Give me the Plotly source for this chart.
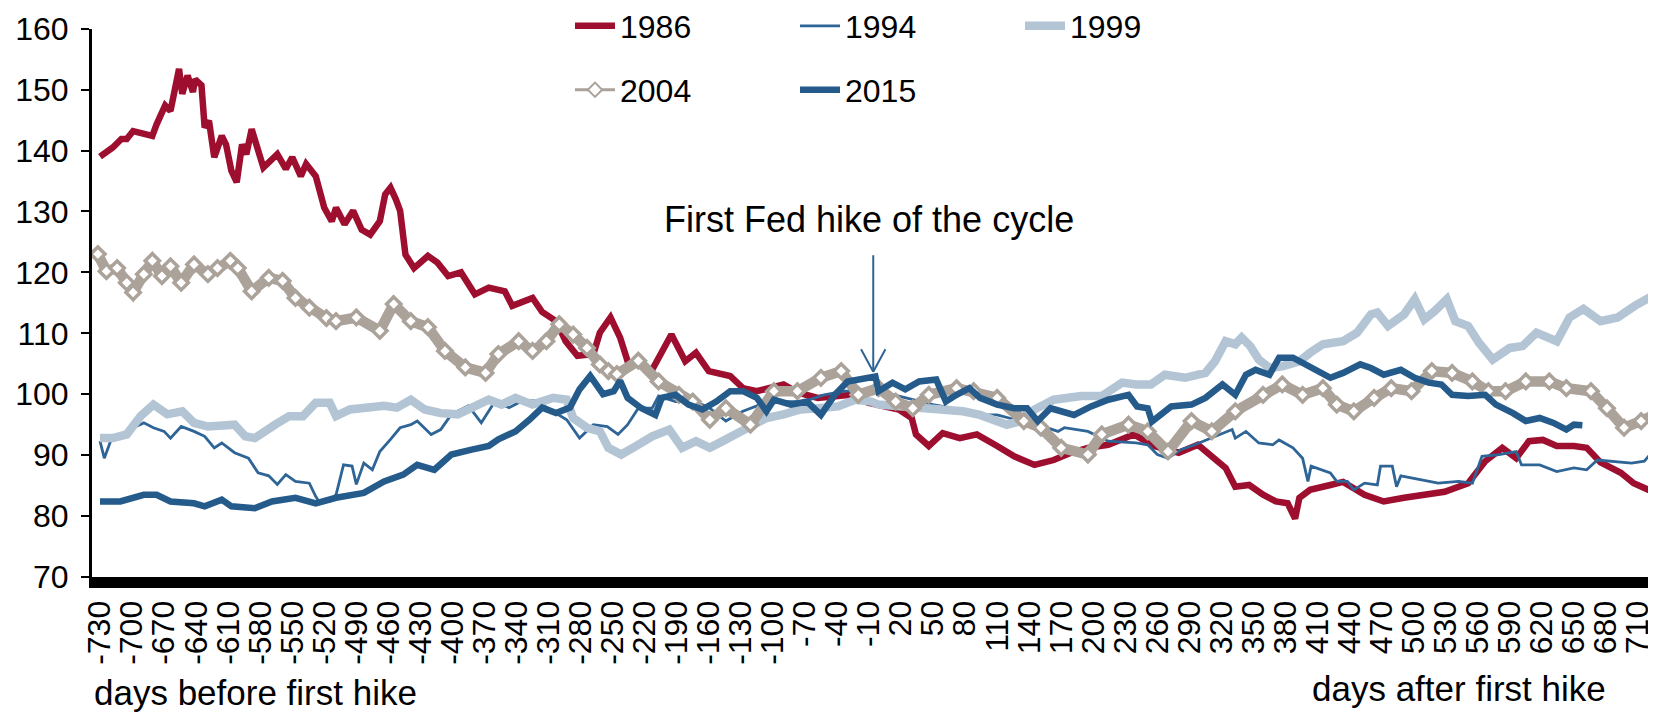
import plotly.graph_objects as go

# ---------------- data ----------------
d1986 = [-730,-724,-718,-710,-705,-699,-689,-681,-677,-669,-664,-659,-656,-653,-648,-643,-641,-635,-632,-628,-623,-616,-612,-607,-602,-597,-593,-588,-581,-577,-564,-556,-550,-542,-537,-528,-520,-513,-509,-501,-493,-485,-477,-468,-463,-458,-453,-449,-444,-436,-423,-414,-404,-392,-379,-366,-351,-344,-325,-316,-303,-294,-283,-268,-262,-252,-243,-236,-213,-195,-182,-172,-160,-140,-128,-115,-90,-77,-58,-27,-11,18,30,34,46,59,75,91,110,126,145,163,179,195,214,238,257,280,298,311,324,333,346,359,371,382,389,393,403,422,434,454,472,491,507,529,551,567,583,596,608,621,634,650,662,675,694,706,720,732]
v1986 = [139,139.7,140.5,141.9,141.9,143.2,142.7,142.4,144.3,147.4,146.5,151.2,153.4,149.3,152.3,149.6,151.7,150.7,143.8,144.9,138.9,142.4,141,136.7,134.8,141,139.4,143.5,140,137.2,139.4,137,138.9,135.8,137.8,135.8,130.6,128.4,130.6,127.9,130.1,127,126.2,128.4,132.8,133.9,132,130.1,122.9,120.7,122.7,121.6,119.4,120,116.4,117.5,116.9,114.5,115.8,113.5,112,108.7,106.3,106.6,110.1,112.6,109.3,105.4,104,109.8,105.4,106.8,103.8,103,101,100.5,101.6,100.3,99.4,99.9,98.6,97.5,96.1,93.4,91.5,93.6,92.8,93.4,91.5,89.8,88.4,89.2,90.4,91.2,91.7,93.4,91.5,90.4,91.7,89.8,87.9,84.8,85.1,83.5,82.4,82.1,79.6,83,84.3,85.1,85.6,83.5,82.4,83,83.5,84,85.4,89,91.2,89.5,92.3,92.5,91.5,91.5,91.2,88.8,87.1,85.4,84.3,85.4]

d1994 = [-730,-726,-719,-708,-699,-689,-680,-670,-664,-654,-642,-632,-623,-616,-604,-591,-582,-572,-564,-556,-547,-534,-528,-525,-515,-509,-502,-494,-490,-483,-475,-468,-458,-449,-439,-433,-420,-411,-401,-385,-373,-360,-347,-335,-322,-306,-293,-281,-268,-255,-245,-236,-226,-213,-207,-191,-172,-159,-144,-128,-112,-90,-71,-52,-33,-14,-1,18,37,50,69,91,110,132,148,167,173,195,214,240,251,260,270,282,295,311,321,330,333,343,355,368,374,387,396,401,404,415,422,428,438,444,454,466,469,480,484,488,507,523,542,555,564,580,596,601,618,634,650,662,672,688,704,716,729]
v1994 = [92.3,89.5,92.8,93.6,94.5,95.3,94.5,93.9,92.8,94.7,93.9,93.1,91.2,92,90.4,89.5,87.1,86.6,85.2,86.8,85.7,85.4,83.2,82.4,82.4,83.5,88.4,88.2,85.2,88.7,87.6,90.6,92.6,94.5,95,95.6,93.4,94.2,96.7,98.1,95.3,98.9,97.8,98.9,98.9,97.2,95.8,92.8,95,94.7,93.4,95,97.7,97.7,99.7,98.8,98.8,97.7,95.6,97.2,98.3,98.8,98.8,99.9,100.5,100.5,100.5,99.7,98.8,98.3,97.7,96.6,96.6,95.6,95,93.9,94.5,93.9,92.3,92,91.7,90.1,89.5,90.9,91.7,92.8,93.6,94.2,92.8,93.9,92,91.7,92.5,91.2,89.5,85.7,88.2,87.6,87.1,85.7,85.7,84.3,85.4,85.1,88.2,88.2,84.8,86.6,86,85.4,85.7,85.4,89.8,90.1,90.6,88.4,88.4,87.3,87.9,87.6,89.2,89,88.7,89,91.7]

d1999 = [-730,-718,-705,-692,-680,-667,-653,-642,-629,-616,-604,-594,-585,-566,-553,-540,-528,-515,-509,-496,-480,-464,-452,-439,-426,-411,-395,-379,-366,-354,-341,-325,-306,-293,-287,-274,-262,-254,-242,-229,-213,-197,-185,-172,-159,-147,-134,-121,-106,-90,-74,-58,-39,-23,-8,-1,20,46,78,94,119,132,145,163,189,208,227,240,254,267,286,305,314,324,333,339,347,355,365,377,393,403,415,434,447,460,466,476,491,501,510,520,531,539,551,561,574,590,602,615,634,646,659,675,691,707,719,729,733]
v1999 = [92.8,92.8,93.4,96.4,98.3,96.7,97.2,95.3,94.7,94.7,95,93.1,92.8,95,96.4,96.4,98.6,98.6,96.4,97.5,97.8,98.1,97.8,99.1,97.5,96.9,96.7,98.1,99.1,98.3,99.4,98.3,99.4,99.1,96.1,94.5,93.9,91.2,90.1,91.4,93.1,94.2,91.2,92.3,91.2,92.3,93.4,94.5,96.1,96.7,97.5,97.7,98,99.1,98.8,98.3,98,97.5,97.2,96.6,95,95.6,97.5,99.1,99.7,99.7,101.9,101.6,101.6,103.2,102.7,103.5,105.4,108.7,108.2,109.3,107.9,105.7,104.3,104.6,105.4,106.8,108.2,108.7,110.1,113.1,113.4,111.2,113.1,115.6,112.3,113.7,115.6,112,111.2,108.5,105.7,107.6,107.9,110.1,108.7,112.6,114,112,112.6,114.5,115.8,116.7,115]

d2004 = [-732,-724,-714,-705,-699,-689,-681,-672,-664,-654,-642,-629,-620,-608,-601,-588,-572,-559,-547,-534,-518,-509,-490,-468,-455,-439,-423,-407,-388,-369,-357,-338,-325,-312,-300,-287,-274,-262,-254,-246,-226,-207,-188,-175,-159,-144,-121,-99,-77,-55,-36,-20,-1,15,31,46,72,88,110,135,151,170,195,208,233,251,270,292,311,333,359,377,396,415,428,444,463,479,498,517,536,555,570,586,605,627,643,666,681,697,713,732]
v2004 = [123,120.2,120.7,118.3,116.7,119.7,121.9,119.4,121,118.3,121.3,119.7,120.7,121.9,120.7,116.9,119.1,118.6,115.8,114.2,112.5,112,112.6,110.4,114.8,112,111,107.1,104.4,103.5,106.6,108.7,107.1,108.7,111.5,109.8,107.6,104.9,103.8,103.3,105.5,102.1,99.9,98.8,95.8,97.7,95,100.5,100.5,102.7,103.8,99.9,101,98.8,97.7,99.9,101,100.5,99.4,95.6,94.5,91.2,90.1,93.4,95,93.9,90.6,95.6,93.9,97.2,99.9,101.6,99.9,101,98.3,97.2,99.4,101,100.5,103.8,103.5,102.1,100.5,100.5,102.1,102.1,101,100.5,97.7,94.5,95.6,97.2]

d2015 = [-730,-711,-689,-677,-664,-642,-632,-616,-607,-585,-569,-547,-528,-509,-483,-464,-446,-433,-417,-401,-382,-366,-357,-341,-328,-316,-303,-290,-281,-271,-259,-249,-243,-236,-223,-210,-204,-191,-179,-166,-153,-140,-128,-115,-106,-99,-83,-68,-55,-42,-30,-14,-4,-1,12,24,37,53,62,72,84,94,110,126,138,148,160,182,198,214,233,241,251,255,273,292,305,321,333,343,352,365,374,387,396,409,422,434,450,460,472,488,501,514,526,536,551,567,577,593,605,618,631,643,650,658]
v2015 = [82.4,82.4,83.5,83.5,82.4,82.1,81.6,82.7,81.6,81.3,82.4,83,82.1,83,83.8,85.7,86.8,88.4,87.6,90.1,90.9,91.5,92.6,93.9,95.8,97.8,96.9,97.8,100.8,103,100,100.5,102.2,99.4,97.7,96.6,99.4,99.9,98.3,97.5,98.8,100.5,100.5,99.4,97.2,99.1,98.3,98.8,96.6,99.9,102.1,102.7,102.9,100.5,101.9,100.8,102.1,102.4,98.8,99.9,101,99.4,98.3,97.7,97.7,95.6,97.7,96.6,98,99.1,99.9,98,97.7,95.5,98,98.3,99.4,101.6,99.9,103.2,104,103.2,106,106,105.2,103.8,102.7,103.5,104.9,104.3,103.2,104,102.7,101.9,101.6,99.9,99.7,99.9,98.3,96.9,95.6,96.1,95.3,94.2,95,94.9]

tick_days = list(range(-730, 711, 30))
tick_text = [str(t) for t in tick_days]

# ---------------- styling ----------------
FONT = "Liberation Sans, Arial, sans-serif"
C1986 = "#9E0F2F"
C1994 = "#2E6596"
C1999 = "#B3C5D5"
C2004 = "#ABA29A"
C2015 = "#245B8B"

# page body adds an 8px offset, so the figure is 8px smaller than the window
W, H = 1648, 704
LEFT = 84
PLOT_TOP, PLOT_BOTTOM = 20.7, 569        # figure rows of y=160 and y=70
PAPER_H = PLOT_BOTTOM                     # paper spans rows 0..PAPER_H (t=0)
X_START = -737.5
PX_PER_DAY = 1.068
X_END = X_START + (W - LEFT) / PX_PER_DAY


def py(px_row):
    """figure pixel row -> paper y"""
    return (PAPER_H - px_row) / PAPER_H


def px(px_col):
    """figure pixel column -> paper x"""
    return (px_col - LEFT) / (W - LEFT)


fig = go.Figure()

fig.add_trace(go.Scatter(x=d1986, y=v1986, name="1986", mode="lines",
                         line=dict(color=C1986, width=6.5), legend="legend"))
fig.add_trace(go.Scatter(x=d1994, y=v1994, name="1994", mode="lines",
                         line=dict(color=C1994, width=2.8), legend="legend"))
fig.add_trace(go.Scatter(x=d1999, y=v1999, name="1999", mode="lines",
                         line=dict(color=C1999, width=8.5), legend="legend"))
fig.add_trace(go.Scatter(x=d2004, y=v2004, name="2004", mode="lines+markers",
                         line=dict(color=C2004, width=10.5),
                         marker=dict(symbol="diamond", size=11, color="white",
                                     line=dict(color=C2004, width=3.5)),
                         showlegend=False))
fig.add_trace(go.Scatter(x=[None], y=[None], name="2004", mode="lines+markers",
                         line=dict(color=C2004, width=3),
                         marker=dict(symbol="diamond", size=11, color="white",
                                     line=dict(color=C2004, width=2)),
                         legend="legend2"))
fig.add_trace(go.Scatter(x=d2015, y=v2015, name="2015", mode="lines",
                         line=dict(color=C2015, width=6.5), legend="legend2"))

# arrow marking the first hike (shaft + open V head)
HIKE_X, TIP_Y = -6, 103.7
fig.add_annotation(x=HIKE_X, y=TIP_Y, xref="x", yref="y", ax=0, ay=-118,
                   text="", showarrow=True, arrowhead=0, arrowwidth=2,
                   arrowcolor=C1994, standoff=0)
for dx in (-13, 13):
    fig.add_annotation(x=HIKE_X, y=TIP_Y, xref="x", yref="y", ax=dx, ay=-24,
                       text="", showarrow=True, arrowhead=0, arrowwidth=2,
                       arrowcolor=C1994, standoff=0)
fig.add_annotation(x=-10, y=128.7, xref="x", yref="y", showarrow=False,
                   text="First Fed hike of the cycle",
                   font=dict(family=FONT, size=36, color="black"))
fig.add_annotation(x=0.0, y=py(684), xref="paper", yref="paper", showarrow=False,
                   xanchor="left", yanchor="middle", text="days before first hike",
                   font=dict(family=FONT, size=35, color="black"))
fig.add_annotation(x=0.969, y=py(680.5), xref="paper", yref="paper", showarrow=False,
                   xanchor="right", yanchor="middle", text="days after first hike",
                   font=dict(family=FONT, size=35, color="black"))

legend_common = dict(orientation="h", xanchor="left", yanchor="middle",
                     font=dict(family=FONT, size=32, color="black"),
                     bgcolor="rgba(0,0,0,0)", entrywidth=170, itemwidth=40,
                     tracegroupgap=0)

fig.update_layout(
    width=W, height=H,
    margin=dict(l=LEFT, r=0, t=0, b=H - PLOT_BOTTOM, autoexpand=False),
    paper_bgcolor="white", plot_bgcolor="white",
    font=dict(family=FONT, size=32, color="black"),
    legend=dict(x=px(562), y=py(18), **legend_common),
    legend2=dict(x=px(562), y=py(82), **legend_common),
    xaxis=dict(range=[X_START, X_END], tickmode="array", tickvals=tick_days,
               ticktext=tick_text, tickangle=-90, showgrid=False,
               zeroline=False, showline=True, linecolor="black", linewidth=11,
               ticks="", automargin=False,
               tickfont=dict(family=FONT, size=32, color="black")),
    yaxis=dict(range=[70, 160], dtick=10, showgrid=False, zeroline=False,
               domain=[0, (PLOT_BOTTOM - PLOT_TOP) / PAPER_H],
               showline=True, linecolor="black", linewidth=3,
               ticks="outside", ticklen=8, tickwidth=2, tickcolor="black",
               ticklabelstandoff=6, automargin=False,
               tickfont=dict(family=FONT, size=32, color="black")),
)

fig.write_html("out.html")
